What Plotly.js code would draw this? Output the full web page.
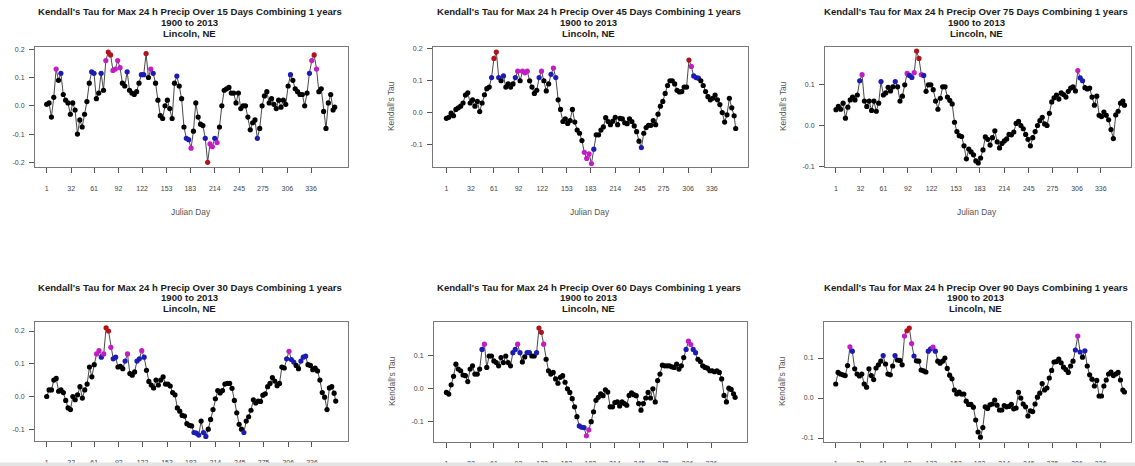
<!DOCTYPE html>
<html><head><meta charset="utf-8">
<script src="https://cdn.plot.ly/plotly-3.0.1.min.js"></script>
<style>html,body{margin:0;padding:0;background:#fff;overflow:hidden}#chart{width:1135px;height:466px}</style>
</head><body><div id="chart"></div>
<script>
const days = [1,4,7,10,13,16,19,22,25,28,31,34,37,40,43,46,49,52,55,58,61,64,67,70,73,76,79,82,85,88,91,94,97,100,103,106,109,112,115,118,121,124,127,130,133,136,139,142,145,148,151,154,157,160,163,166,169,172,175,178,181,184,187,190,193,196,199,202,205,208,211,214,217,220,223,226,229,232,235,238,241,244,247,250,253,256,259,262,265,268,271,274,277,280,283,286,289,292,295,298,301,304,307,310,313,316,319,322,325,328,331,334,337,340,343,346,349,352,355,358,361,364,366];
const xTickVals = [1,32,61,92,122,153,183,214,245,275,306,336];
const windowsDays = [15,45,75,30,60,90];
const titleLine2 = "1900 to 2013";
const titleLine3 = "Lincoln, NE";

const tau15 = [0.005,0.01,-0.04,0.03,0.13,0.09,0.115,0.04,0.02,0.01,
-0.03,0.01,-0.015,-0.10,-0.05,-0.075,-0.03,0.015,0.08,0.12,
0.115,0.025,0.045,0.115,0.055,0.16,0.19,0.18,0.125,0.13,
0.16,0.135,0.08,0.07,0.12,0.055,0.045,0.04,0.05,0.08,
0.11,0.11,0.185,0.10,0.13,0.115,0.08,0.02,-0.035,-0.045,
0.0,0.02,-0.01,-0.045,0.08,0.105,0.07,0.025,-0.075,-0.115,
-0.12,-0.15,-0.09,0.01,-0.04,-0.065,-0.07,-0.115,-0.2,-0.135,
-0.145,-0.115,-0.13,-0.075,0.0,0.055,0.06,0.065,0.045,0.045,
0.01,0.045,-0.01,0.0,0.0,-0.04,-0.085,-0.06,-0.05,-0.115,
-0.08,0.0,0.035,0.05,0.01,0.025,0.005,-0.01,0.02,-0.005,
0.02,0.005,0.07,0.11,0.09,0.06,0.05,0.04,0.04,0.0,
0.045,0.115,0.16,0.18,0.13,0.05,0.06,-0.02,-0.08,0.01,
0.04,-0.015,-0.005];

const tau45 = [-0.018,-0.015,-0.002,-0.01,0.01,0.015,0.02,0.03,0.055,0.062,
0.03,0.04,0.02,0.035,0.003,0.03,0.056,0.075,0.08,0.11,
0.17,0.19,0.11,0.1,0.115,0.08,0.09,0.08,0.09,0.11,
0.13,0.1,0.13,0.125,0.13,0.1,0.08,0.06,0.07,0.11,
0.13,0.1,0.068,0.09,0.12,0.14,0.11,0.04,0.01,-0.028,
-0.02,-0.034,-0.025,0.01,-0.03,-0.055,-0.065,-0.088,-0.125,-0.144,
-0.13,-0.16,-0.115,-0.07,-0.07,-0.055,-0.045,-0.016,-0.028,-0.038,
-0.027,-0.015,-0.038,-0.018,-0.02,-0.032,-0.035,-0.02,-0.028,-0.042,
-0.06,-0.09,-0.11,-0.065,-0.047,-0.04,-0.04,-0.025,-0.038,-0.005,
0.02,0.035,0.06,0.085,0.1,0.1,0.09,0.07,0.065,0.066,
0.08,0.08,0.165,0.145,0.115,0.11,0.108,0.1,0.085,0.066,
0.05,0.04,0.045,0.055,0.04,0.025,0.0,-0.03,-0.007,0.045,
0.015,-0.01,-0.05];

const tau75 = [0.039,0.047,0.04,0.055,0.018,0.045,0.063,0.07,0.063,0.075,
0.11,0.125,0.06,0.047,0.06,0.037,0.06,0.035,0.055,0.108,
0.075,0.08,0.094,0.085,0.095,0.108,0.095,0.06,0.072,0.1,
0.128,0.123,0.118,0.13,0.183,0.165,0.125,0.123,0.084,0.1,
0.1,0.088,0.06,0.04,0.067,0.095,0.095,0.07,0.062,0.053,
0.008,-0.015,-0.025,-0.027,-0.05,-0.082,-0.058,-0.065,-0.072,-0.087,
-0.092,-0.08,-0.06,-0.028,-0.034,-0.048,-0.03,-0.013,-0.04,-0.055,
-0.044,-0.038,-0.033,-0.022,-0.023,-0.016,0.005,0.01,0.0,-0.008,
-0.022,-0.034,-0.05,-0.03,-0.015,0.0,0.012,0.02,0.004,0.0,
0.03,0.058,0.068,0.075,0.065,0.08,0.076,0.07,0.084,0.092,
0.095,0.085,0.135,0.117,0.11,0.093,0.09,0.092,0.07,0.05,
0.072,0.025,0.022,0.033,0.025,0.014,-0.01,-0.032,0.026,0.035,
0.055,0.06,0.05];

const tau30 = [0.0,0.02,0.02,0.05,0.055,0.016,0.02,0.012,-0.012,-0.035,
-0.04,0.0,-0.01,0.005,0.03,-0.005,0.02,0.038,0.09,0.06,
0.097,0.13,0.14,0.12,0.13,0.21,0.2,0.15,0.115,0.12,
0.09,0.092,0.085,0.108,0.13,0.07,0.065,0.075,0.108,0.115,
0.14,0.12,0.08,0.046,0.035,0.026,0.05,0.035,0.05,0.06,
0.038,0.038,0.032,0.012,0.005,-0.035,-0.045,-0.058,-0.06,-0.083,
-0.088,-0.09,-0.11,-0.112,-0.118,-0.075,-0.11,-0.122,-0.1,-0.07,
-0.04,-0.007,0.018,0.011,0.018,0.038,0.04,0.04,0.025,-0.012,
-0.05,-0.085,-0.1,-0.11,-0.075,-0.062,-0.042,-0.01,-0.02,-0.014,
-0.015,0.004,0.008,0.03,0.04,0.058,0.047,0.033,0.04,0.09,
0.087,0.115,0.138,0.113,0.105,0.095,0.085,0.108,0.12,0.123,
0.097,0.095,0.082,0.087,0.078,0.05,0.012,-0.002,-0.04,0.026,
0.03,0.01,-0.014];

const tau60 = [-0.011,-0.016,0.012,0.038,0.075,0.06,0.055,0.042,0.04,0.022,
0.06,0.07,0.045,0.045,0.06,0.12,0.136,0.065,0.1,0.1,
0.085,0.08,0.07,0.095,0.08,0.1,0.08,0.07,0.11,0.12,
0.136,0.11,0.082,0.097,0.11,0.11,0.1,0.1,0.11,0.185,
0.172,0.136,0.09,0.055,0.045,0.05,0.03,0.017,0.035,0.04,
0.02,0.0,-0.011,-0.03,-0.055,-0.085,-0.113,-0.117,-0.118,-0.143,
-0.125,-0.1,-0.07,-0.035,-0.026,-0.015,-0.021,-0.003,-0.01,-0.055,
-0.055,-0.042,-0.04,-0.052,-0.04,-0.045,-0.05,-0.02,-0.012,-0.018,
-0.021,-0.045,-0.065,-0.045,-0.028,-0.011,-0.028,0.0,-0.04,0.025,
0.045,0.072,0.07,0.07,0.07,0.067,0.065,0.075,0.06,0.07,
0.095,0.12,0.145,0.135,0.12,0.11,0.09,0.083,0.07,0.065,
0.063,0.055,0.055,0.052,0.055,0.05,0.03,-0.02,-0.04,0.002,
-0.002,-0.015,-0.026];

const tau90 = [0.035,0.064,0.06,0.058,0.056,0.081,0.128,0.117,0.073,0.06,
0.055,0.06,0.035,0.027,0.073,0.056,0.046,0.075,0.083,0.092,
0.106,0.085,0.06,0.058,0.08,0.106,0.095,0.094,0.083,0.155,
0.168,0.175,0.136,0.105,0.093,0.092,0.07,0.068,0.065,0.117,
0.123,0.127,0.117,0.092,0.087,0.092,0.1,0.074,0.057,0.048,
0.02,0.01,0.015,0.01,0.01,-0.008,-0.016,-0.016,-0.023,-0.055,
-0.085,-0.098,-0.074,-0.022,-0.026,-0.017,-0.015,-0.005,-0.018,-0.03,
-0.03,-0.019,-0.022,-0.021,-0.016,-0.027,-0.025,0.014,0.0,-0.015,
-0.022,-0.045,-0.032,-0.034,-0.015,0.002,0.012,0.036,0.02,0.025,
0.05,0.069,0.09,0.091,0.097,0.088,0.077,0.071,0.064,0.08,
0.092,0.12,0.155,0.115,0.102,0.118,0.08,0.058,0.047,0.03,
0.044,0.005,0.005,0.03,0.045,0.06,0.065,0.056,0.06,0.064,
0.045,0.02,0.015];

const series = [tau15, tau45, tau75, tau30, tau60, tau90];
const yTicks = [
  [-0.2,-0.1,0,0.1,0.2],
  [-0.1,0,0.1,0.2],
  [-0.1,0,0.1],
  [-0.1,0,0.1,0.2],
  [-0.1,0,0.1],
  [-0.1,0,0.1]
];

// layout geometry (pixels)
const W = 1135, H = 466;
const boxes = [
  {x0:35,  x1:348,  y0:47,  y1:167, xr:[-13.8,382.9], yr:[-0.2166,0.208], ylab:false},
  {x0:433, x1:748,  y0:47,  y1:167, xr:[-15.9,381.5], yr:[-0.171,0.206],  ylab:true},
  {x0:825, x1:1131, y0:47,  y1:167, xr:[-12.9,374.3], yr:[-0.102,0.193],  ylab:true},
  {x0:35,  x1:348,  y0:322, y1:441, xr:[-13.8,381.5], yr:[-0.136,0.2275], ylab:false},
  {x0:434, x1:747,  y0:322, y1:442, xr:[-14.7,381.0], yr:[-0.162,0.2035], ylab:true},
  {x0:824, x1:1131, y0:322, y1:442, xr:[-13.8,374.3], yr:[-0.11,0.19],    ylab:true}
];
const BLUE='#1c1cb4', MAG='#c41cc4', RED='#b0141a', BLK='#000000';
function sigColor(v){const a=Math.abs(v); if(a>=0.163) return RED; if(a>=0.124) return MAG; if(a>=0.104) return BLUE; return BLK;}
function fmt(v){return (v<0?'-':'')+Math.abs(v).toFixed(1);}

const FONT = 'Liberation Sans, Arial, Helvetica, sans-serif';
const traces = [], annotations = [];
const layout = {
  width:W, height:H, margin:{l:0,r:0,t:0,b:0},
  paper_bgcolor:'#ffffff', plot_bgcolor:'#ffffff', showlegend:false,
  font:{family:FONT},
  shapes:[{type:'rect', xref:'paper', yref:'paper', x0:0, x1:1, y0:0, y1:3.5/H, fillcolor:'#e4e4e4', line:{width:0}, layer:'above'}]
};

boxes.forEach((b,i)=>{
  const n = i+1, sx = n===1?'':String(n);
  const vals = series[i];
  traces.push({
    type:'scatter', mode:'lines+markers', x:days, y:vals,
    xaxis:'x'+sx, yaxis:'y'+sx,
    line:{color:'#333333', width:0.9},
    marker:{size:5.2, color:vals.map(sigColor), line:{width:0}},
    hoverinfo:'x+y'
  });
  layout['xaxis'+sx] = {
    domain:[b.x0/W, b.x1/W], range:b.xr, anchor:'y'+sx,
    tickmode:'array', tickvals:xTickVals, ticktext:xTickVals.map(String),
    ticks:'outside', ticklen:5, tickwidth:1, tickcolor:'#555',
    showline:true, mirror:true, linecolor:'#777', linewidth:1,
    showgrid:false, zeroline:false, ticklabelstandoff:10,
    tickfont:{family:FONT, size:7, color:'#444'}
  };
  layout['yaxis'+sx] = {
    domain:[1-b.y1/H, 1-b.y0/H], range:b.yr, anchor:'x'+sx,
    tickmode:'array', tickvals:yTicks[i], ticktext:yTicks[i].map(fmt),
    ticks:'outside', ticklen:5, tickwidth:1, tickcolor:'#555',
    showline:true, mirror:true, linecolor:'#777', linewidth:1,
    showgrid:false, zeroline:false, ticklabelstandoff:3,
    tickfont:{family:FONT, size:7, color:'#444'}
  };
  const cx = (b.x0+b.x1)/2 - 2;
  const tTop = b.y0 - 35;
  const lines = ["Kendall's Tau for Max 24 h Precip Over "+windowsDays[i]+" Days Combining 1 years", titleLine2, titleLine3];
  lines.forEach((t,j)=>{
    annotations.push({xref:'paper', yref:'paper', x:cx/W, y:1-(tTop+j*10.7)/H,
      text:'<b>'+t+'</b>', showarrow:false, xanchor:'center', yanchor:'middle',
      font:{family:FONT, size:9.6, color:'#1a1a1a'}});
  });
  if (i<3) {
    annotations.push({xref:'paper', yref:'paper', x:(cx+1)/W, y:1-(b.y1+45)/H,
      text:'Julian Day', showarrow:false, xanchor:'center', yanchor:'middle',
      font:{family:FONT, size:8.4, color:'#555'}});
  }
  if (b.ylab) {
    annotations.push({xref:'paper', yref:'paper', x:(b.x0-42)/W, y:1-((b.y0+b.y1)/2 - 1)/H,
      text:"Kendall's Tau", showarrow:false, textangle:-90, xanchor:'center', yanchor:'middle',
      font:{family:FONT, size:8.4, color:'#555'}});
  }
});
layout.annotations = annotations;
Plotly.newPlot('chart', traces, layout, {staticPlot:true, displayModeBar:false});
</script>
</body></html>
